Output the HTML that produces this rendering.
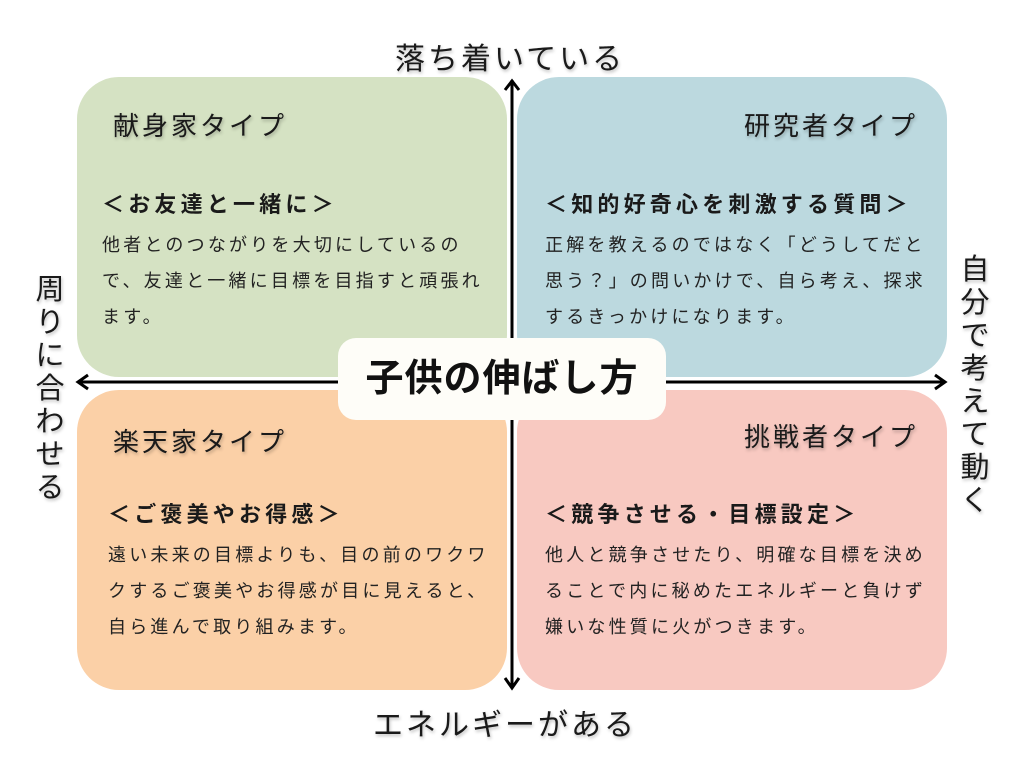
<!DOCTYPE html>
<html><head><meta charset="utf-8"><style>
body{margin:0;width:1024px;height:768px;background:#fff;position:relative;overflow:hidden;font-family:"Liberation Sans","Noto Sans CJK JP",sans-serif;color:#1a1a1a}
.b{position:absolute;border-radius:42px}
.t{position:absolute;font-size:26px;letter-spacing:3px;white-space:nowrap;text-shadow:1px 2px 3px rgba(0,0,0,.25)}
.h{position:absolute;font-size:22px;letter-spacing:4.2px;font-weight:bold;white-space:nowrap}
.p{position:absolute;font-size:18px;letter-spacing:3.2px;line-height:36px;white-space:nowrap;color:#222}
.ax{position:absolute;font-size:30px;letter-spacing:3px;white-space:nowrap;text-shadow:1px 2px 3px rgba(0,0,0,.25)}
.v{position:absolute;font-size:29px;width:34px;line-height:33px;text-align:center;text-shadow:1px 2px 3px rgba(0,0,0,.25)}
</style></head><body>
<div class="b" style="left:77px;top:77px;width:430px;height:300px;background:#d5e2c3"></div>
<div class="b" style="left:517px;top:77px;width:430px;height:300px;background:#bcd9df"></div>
<div class="b" style="left:77px;top:390px;width:430px;height:300px;background:#fbd0a7"></div>
<div class="b" style="left:517px;top:390px;width:430px;height:300px;background:#f8c9c1"></div>
<svg style="position:absolute;left:0;top:0" width="1024" height="768">
<line x1="512" y1="80" x2="512" y2="688" stroke="#000" stroke-width="3"/>
<line x1="78" y1="382" x2="944" y2="382" stroke="#000" stroke-width="3"/>
<polyline points="505,90 512,81 519,90" fill="none" stroke="#000" stroke-width="3"/>
<polyline points="505,678 512,688 519,678" fill="none" stroke="#000" stroke-width="3"/>
<polyline points="88,375 78,382 88,389" fill="none" stroke="#000" stroke-width="3"/>
<polyline points="935,375 945,382 935,389" fill="none" stroke="#000" stroke-width="3"/>
</svg>
<div style="position:absolute;left:338px;top:338px;width:328px;height:82px;background:#fefdf8;border-radius:18px"></div>
<div style="position:absolute;left:338px;top:338px;width:328px;height:82px;line-height:82px;text-align:center;font-size:38px;letter-spacing:1px;font-weight:bold;color:#111">子供の伸ばし方</div>

<div class="ax" style="left:395px;top:34px">落ち着いている</div>
<div class="ax" style="left:373px;top:700px">エネルギーがある</div>
<div class="v" style="left:33px;top:274px">周りに合わせる</div>
<div class="v" style="left:958px;top:254px">自分で考えて動く</div>

<div class="t" style="left:113px;top:106px">献身家タイプ</div>
<div class="h" style="left:102px;top:187px">＜お友達と一緒に＞</div>
<div class="p" style="left:102px;top:227px">他者とのつながりを大切にしているの<br>で、友達と一緒に目標を目指すと頑張れ<br>ます。</div>

<div class="t" style="right:106px;top:106px">研究者タイプ</div>
<div class="h" style="left:545px;top:187px">＜知的好奇心を刺激する質問＞</div>
<div class="p" style="left:545px;top:227px">正解を教えるのではなく「どうしてだと<br>思う？」の問いかけで、自ら考え、探求<br>するきっかけになります。</div>

<div class="t" style="left:113px;top:422px">楽天家タイプ</div>
<div class="h" style="left:108px;top:497px">＜ご褒美やお得感＞</div>
<div class="p" style="left:108px;top:537px">遠い未来の目標よりも、目の前のワクワ<br>クするご褒美やお得感が目に見えると、<br>自ら進んで取り組みます。</div>

<div class="t" style="right:106px;top:417px">挑戦者タイプ</div>
<div class="h" style="left:545px;top:497px">＜競争させる・目標設定＞</div>
<div class="p" style="left:545px;top:537px">他人と競争させたり、明確な目標を決め<br>ることで内に秘めたエネルギーと負けず<br>嫌いな性質に火がつきます。</div>
</body></html>
